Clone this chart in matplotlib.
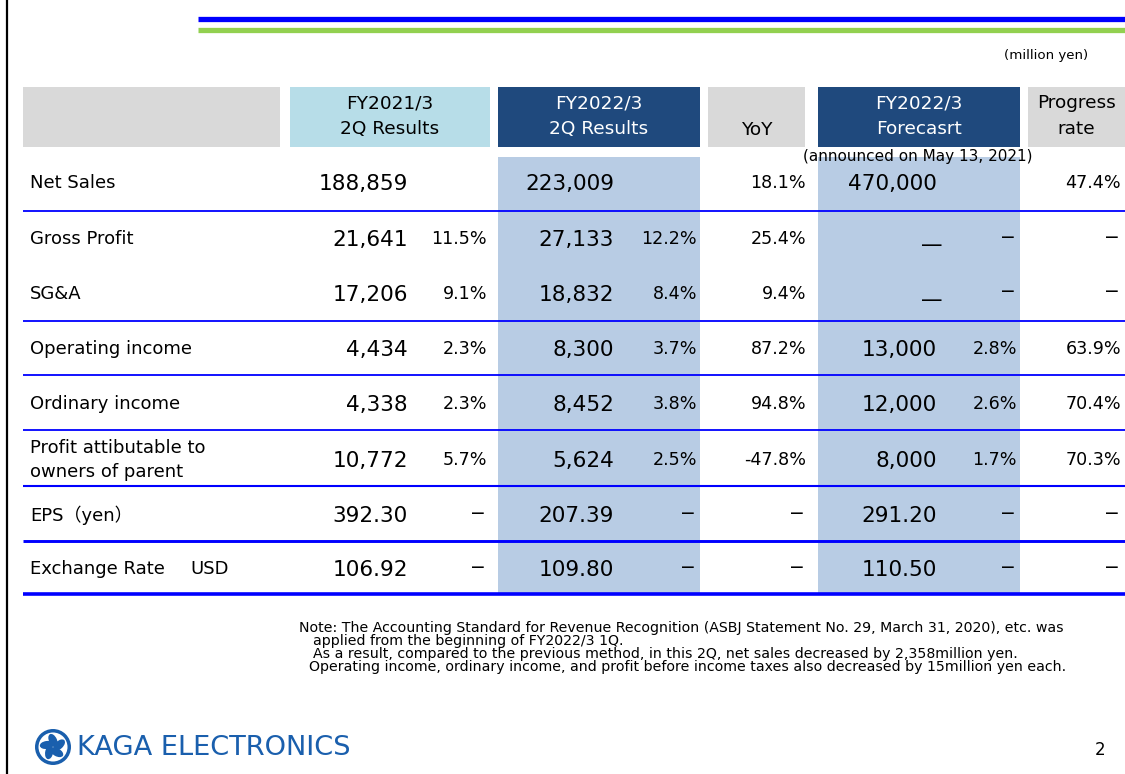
"""FY2022/3 2Q results summary table (KAGA ELECTRONICS slide 2)."""
import math
import matplotlib
matplotlib.use("Agg")
import matplotlib.pyplot as plt
from matplotlib.patches import Rectangle, Circle, Ellipse

# ── data ────────────────────────────────────────────────────────────────
row_labels = ["Net Sales", "Gross Profit", "SG&A", "Operating income",
              "Ordinary income", "Profit attibutable to\nowners of parent",
              "EPS（yen）", "Exchange Rate"]
fy21_vals = ["188,859", "21,641", "17,206", "4,434", "4,338", "10,772", "392.30", "106.92"]
fy21_pct = ["", "11.5%", "9.1%", "2.3%", "2.3%", "5.7%", "−", "−"]
fy22_vals = ["223,009", "27,133", "18,832", "8,300", "8,452", "5,624", "207.39", "109.80"]
fy22_pct = ["", "12.2%", "8.4%", "3.7%", "3.8%", "2.5%", "−", "−"]
yoy = ["18.1%", "25.4%", "9.4%", "87.2%", "94.8%", "-47.8%", "−", "−"]
fc_vals = ["470,000", "—", "—", "13,000", "12,000", "8,000", "291.20", "110.50"]
fc_pct = ["", "−", "−", "2.8%", "2.6%", "1.7%", "−", "−"]
progress = ["47.4%", "−", "−", "63.9%", "70.4%", "70.3%", "−", "−"]

headers = ["", "FY2021/3\n2Q Results", "FY2022/3\n2Q Results", "YoY",
           "FY2022/3\nForecasrt", "Progress\nrate"]

notes = [
    "Note: The Accounting Standard for Revenue Recognition (ASBJ Statement No. 29, March 31, 2020), etc. was",
    "applied from the beginning of FY2022/3 1Q.",
    "As a result, compared to the previous method, in this 2Q, net sales decreased by 2,358million yen.",
    "Operating income, ordinary income, and profit before income taxes also decreased by 15million yen each.",
]

# ── layout (pixel coords, y down) ───────────────────────────────────────
W, H = 1125, 774
GRAY, LBLUE, NAVY, SHADE = "#d9d9d9", "#b7dde8", "#1f497d", "#b8cce4"
BLUE = "#0000ff"
FONT = ["DejaVu Sans", "Noto Sans CJK JP"]

hdr_x = [(23, 280), (290, 490), (498, 700), (708, 805), (818, 1020), (1028, 1125)]
hdr_col = [GRAY, LBLUE, NAVY, GRAY, NAVY, GRAY]
hdr_top, hdr_bot = 87, 147
row_y = [183, 239, 294, 349, 404, 460, 515, 569]
rule_y = [211, 321, 375, 430, 486, 541, 594]
rule_w = [1.3, 1.3, 1.3, 1.3, 1.5, 2.1, 2.6]

fig = plt.figure(figsize=(W / 100, H / 100), dpi=100)
ax = fig.add_axes([0, 0, 1, 1])
ax.set_xlim(0, W)
ax.set_ylim(H, 0)
ax.axis("off")

# slide frame + title rules
ax.plot([7, 7], [0, H], color="black", lw=1.6)
ax.plot([198, W], [18.5, 18.5], color="#0000ff", lw=3.8, solid_capstyle="butt")
ax.plot([198, W], [29.5, 29.5], color="#92d050", lw=3.8, solid_capstyle="butt")
ax.text(1088, 55, "(million yen)", ha="right", va="center", fontsize=9.6, family=FONT)

# header boxes
for (x0, x1), c, t in zip(hdr_x, hdr_col, headers):
    ax.add_patch(Rectangle((x0, hdr_top), x1 - x0, hdr_bot - hdr_top, color=c, lw=0))
    if t:
        tc = "white" if c == NAVY else "black"
        vy = 130 if "\n" not in t else 116
        ax.text((x0 + x1) / 2, vy, t, ha="center", va="center", fontsize=13.3,
                color=tc, family=FONT, linespacing=1.5)

# shaded data columns
for x0, x1 in (hdr_x[2], hdr_x[4]):
    ax.add_patch(Rectangle((x0, 157), x1 - x0, 594 - 157, color=SHADE, lw=0))

ax.text(918, 157, "(announced on May 13, 2021)", ha="center", va="center",
        fontsize=11, family=FONT)

# rules
for y, lw in zip(rule_y, rule_w):
    ax.plot([23, W], [y, y], color=BLUE, lw=lw, solid_capstyle="butt")

# cells
BIG, SMALL = 15.6, 12.6
for i, y in enumerate(row_y):
    ax.text(30, y, row_labels[i], ha="left", va="center", fontsize=13,
            family=FONT, linespacing=1.4)
    ax.text(408, y + 1, fy21_vals[i], ha="right", va="center", fontsize=BIG, family=FONT)
    ax.text(614, y + 1, fy22_vals[i], ha="right", va="center", fontsize=BIG, family=FONT)
    if fc_vals[i] == "—":
        ax.text(932, y + 6, fc_vals[i], ha="center", va="center", fontsize=BIG, family=FONT)
    else:
        ax.text(937, y + 1, fc_vals[i], ha="right", va="center", fontsize=BIG, family=FONT)
    for x, s in ((487, fy21_pct[i]), (697, fy22_pct[i]), (806, yoy[i]),
                 (1017, fc_pct[i]), (1121, progress[i])):
        if s == "−":
            ax.text(x - 9, y - 2, s, ha="center", va="center", fontsize=13.5, family=FONT)
        elif s:
            ax.text(x, y, s, ha="right", va="center", fontsize=SMALL, family=FONT)
ax.text(190, row_y[-1], "USD", ha="left", va="center", fontsize=13, family=FONT)

# note
for s, x, y in zip(notes, [299, 313, 313, 309], [628, 641, 654, 667]):
    ax.text(x, y, s, ha="left", va="center", fontsize=10.2, family=FONT)

# logo
LOGO = "#1a5fad"
ax.add_patch(Circle((53, 747), 18, color=LOGO, lw=0))
ax.add_patch(Circle((53, 747), 14.5, color="white", lw=0))
for k in range(5):
    ang = 90 + k * 72
    cx = 53 + 6.5 * math.cos(math.radians(ang))
    cy = 747 - 6.5 * math.sin(math.radians(ang))
    ax.add_patch(Ellipse((cx, cy), 14, 8, angle=-(ang + 25), color=LOGO, lw=0))
ax.text(77, 748, "KAGA ELECTRONICS", ha="left", va="center", fontsize=19.6,
        color=LOGO, family=FONT)
ax.text(1100, 750, "2", ha="center", va="center", fontsize=12, family=FONT)

fig.savefig("out.png", dpi=100)
